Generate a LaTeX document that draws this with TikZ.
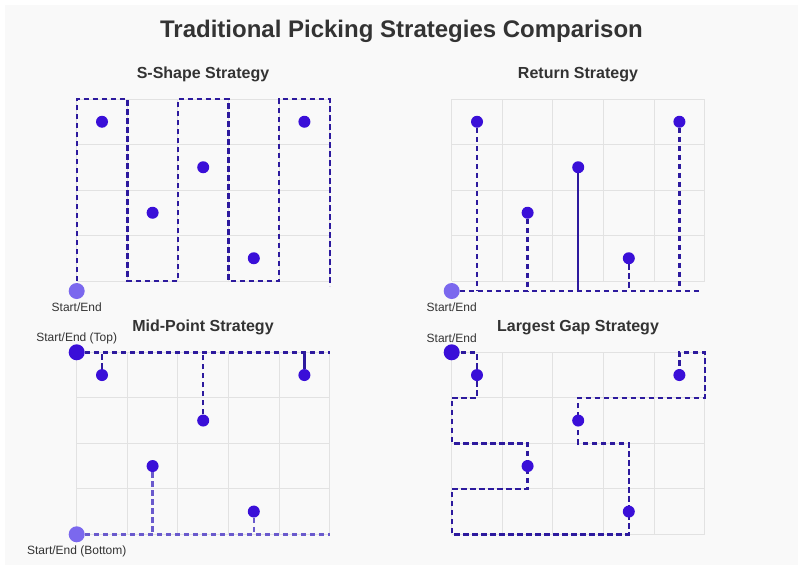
\documentclass[tikz,border=0pt]{standalone}
\usepackage{fontspec}
\setmainfont{Liberation Sans}
\usetikzlibrary{positioning}

\definecolor{bgcol}{HTML}{F9F9F9}
\definecolor{gridcol}{HTML}{E2E2E2}
\definecolor{pickcol}{HTML}{3A0FD8}
\definecolor{routecol}{HTML}{2D1A9E}
\definecolor{depotcol}{HTML}{7B68EE}
\definecolor{lowroute}{HTML}{6A5ACD}
\definecolor{txtcol}{HTML}{333333}

\tikzset{
  pick/.style={circle, fill=pickcol, inner sep=0pt, minimum size=12pt},
  depot/.style={circle, fill=depotcol, inner sep=0pt, minimum size=16pt},
  topdepot/.style={circle, fill=pickcol, inner sep=0pt, minimum size=16pt},
  route/.style={draw=routecol, line width=2.4pt, dash pattern=on 5.5pt off 3.5pt},
  solidroute/.style={draw=routecol, line width=2.2pt},
  gridline/.style={draw=gridcol, line width=1pt},
  paneltitle/.style={font=\fontsize{16}{19}\selectfont\bfseries, text=txtcol},
  depotlabel/.style={font=\fontsize{12}{14}\selectfont, text=txtcol, inner sep=1pt},
}

\begin{document}
\begin{tikzpicture}[x=1pt, y=-1pt]

\useasboundingbox (0,0) rectangle (803,570);
\fill[white] (0,0) rectangle (803,570);
\fill[bgcol] (5,5) rectangle (798,565);

% main title
\node[font=\fontsize{24}{28}\selectfont\bfseries, text=txtcol] (title) at (401.5,31)
  {Traditional Picking Strategies Comparison};

% panel titles
\node[paneltitle] (t1) at (203,74.5) {S-Shape Strategy};
\node[paneltitle] (t2) at (578,74.5) {Return Strategy};
\node[paneltitle] (t3) at (203,327.5) {Mid-Point Strategy};
\node[paneltitle] (t4) at (578,327.5) {Largest Gap Strategy};

% ---- S-shape
\begin{scope}[xshift=76.7pt, yshift=-99pt, x=50.6pt, y=-45.5pt]
  \foreach \i in {0,...,5} \draw[gridline] (\i,0) -- (\i,4);
  \foreach \j in {0,...,4} \draw[gridline] (0,\j) -- (5,\j);
  % serpentine route
  \draw[route] (0,4) -- (0,0) -- (1,0) -- (1,4) -- (2,4) -- (2,0)
    -- (3,0) -- (3,4) -- (4,4) -- (4,0) -- (5,0) -- (5,4.11);
  \node[pick] (s1) at (0.5,0.5) {};
  \node[pick] (s2) at (1.5,2.5) {};
  \node[pick] (s3) at (2.5,1.5) {};
  \node[pick] (s4) at (3.5,3.5) {};
  \node[pick] (s5) at (4.5,0.5) {};
  \node[depot] (sd) at (0,4.22) {};
  \node[depotlabel, below=2.5pt of sd] (sdl) {Start/End};
\end{scope}

% ---- Return
\begin{scope}[xshift=451.7pt, yshift=-99pt, x=50.6pt, y=-45.5pt]
  \foreach \i in {0,...,5} \draw[gridline] (\i,0) -- (\i,4);
  \foreach \j in {0,...,4} \draw[gridline] (0,\j) -- (5,\j);
  \node[pick] (r1) at (0.5,0.5) {};
  \node[pick] (r2) at (1.5,2.5) {};
  \node[pick] (r3) at (2.5,1.5) {};
  \node[pick] (r4) at (3.5,3.5) {};
  \node[pick] (r5) at (4.5,0.5) {};
  \node[depot] (rd) at (0,4.22) {};
  \node[depotlabel, below=2.5pt of rd] (rdl) {Start/End};
  \coordinate (rend) at (4.9,4.22);
  % aisle in and back out
  \draw[route] (rd) -- (rend);
  \draw[route] (r1) -- (r1 |- rd);
  \draw[route] (r2) -- (r2 |- rd);
  \draw[solidroute] (r3) -- (r3 |- rd);
  \draw[route] (r4) -- (r4 |- rd);
  \draw[route] (r5) -- (r5 |- rd);
\end{scope}

% ---- Mid-point
\begin{scope}[xshift=76.7pt, yshift=-352.3pt, x=50.6pt, y=-45.5pt]
  \foreach \i in {0,...,5} \draw[gridline] (\i,0) -- (\i,4);
  \foreach \j in {0,...,4} \draw[gridline] (0,\j) -- (5,\j);
  \node[pick] (m1) at (0.5,0.5) {};
  \node[pick] (m2) at (1.5,2.5) {};
  \node[pick] (m3) at (2.5,1.5) {};
  \node[pick] (m4) at (3.5,3.5) {};
  \node[pick] (m5) at (4.5,0.5) {};
  \node[topdepot] (mt) at (0,0) {};
  \node[depot] (mb) at (0,4) {};
  \node[depotlabel, above=-1.5pt of mt] (mtl) {Start/End (Top)};
  \node[depotlabel, below=2.5pt of mb] (mbl) {Start/End (Bottom)};
  \coordinate (mtend) at (5,0);
  \coordinate (mbend) at (5,4);
  % upper half
  \draw[route] (mt) -- (mtend);
  \draw[route] (m1) -- (m1 |- mt);
  \draw[route] (m3) -- (m3 |- mt);
  \draw[solidroute] (m5) -- (m5 |- mt);
  % lower half
  \draw[route, draw=lowroute] (mb) -- (mbend);
  \draw[route, draw=lowroute] (m2) -- (m2 |- mb);
  \draw[route, draw=lowroute] (m4) -- (m4 |- mb);
\end{scope}

% ---- Largest gap
\begin{scope}[xshift=451.7pt, yshift=-352.3pt, x=50.6pt, y=-45.5pt]
  \foreach \i in {0,...,5} \draw[gridline] (\i,0) -- (\i,4);
  \foreach \j in {0,...,4} \draw[gridline] (0,\j) -- (5,\j);
  \draw[route] (0,0) -- (0.5,0) -- (0.5,1) -- (0,1) -- (0,2) -- (1.5,2)
    -- (1.5,3) -- (0,3) -- (0,4) -- (3.5,4) -- (3.5,2) -- (2.5,2)
    -- (2.5,1) -- (5,1) -- (5,0) -- (4.5,0) -- (4.5,0.5);
  \node[pick] (g1) at (0.5,0.5) {};
  \node[pick] (g2) at (1.5,2.5) {};
  \node[pick] (g3) at (2.5,1.5) {};
  \node[pick] (g4) at (3.5,3.5) {};
  \node[pick] (g5) at (4.5,0.5) {};
  \node[topdepot] (gd) at (0,0) {};
  \node[depotlabel, above=0pt of gd] (gdl) {Start/End};
\end{scope}

\end{tikzpicture}
\end{document}
